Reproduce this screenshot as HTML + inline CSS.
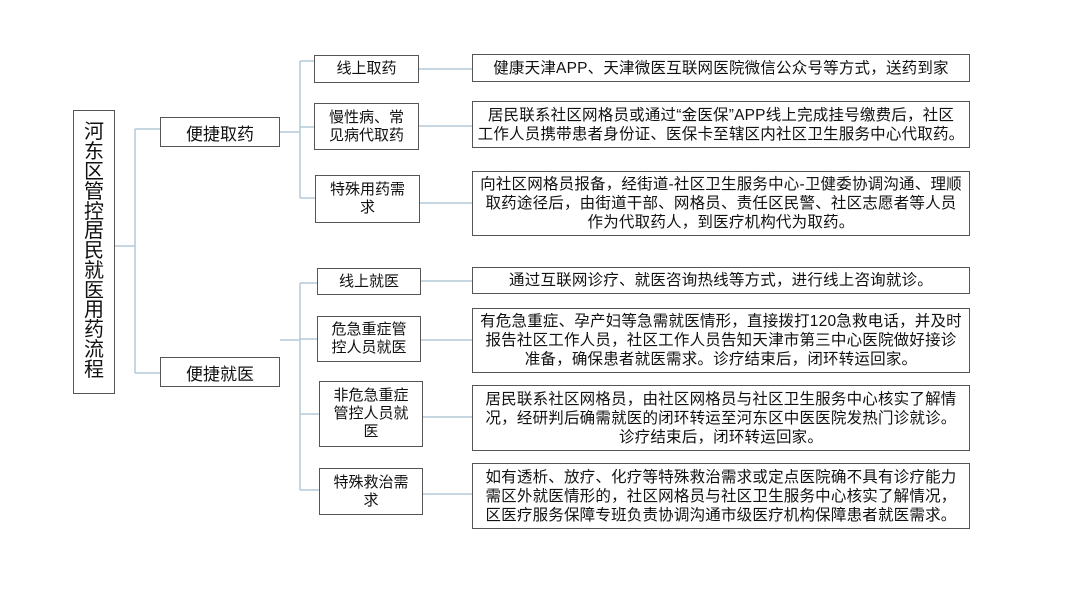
<!DOCTYPE html>
<html><head><meta charset="utf-8"><style>
body{margin:0;width:1080px;height:608px;background:#fff;position:relative;overflow:hidden;font-family:"Liberation Sans","Noto Sans CJK SC",sans-serif;color:#111}
.b{position:absolute;border:1.5px solid #555;box-sizing:border-box;display:flex;align-items:center;justify-content:center;text-align:center;background:#fff}
.s{font-size:15px;line-height:18px}
.r{font-size:15.5px;line-height:19px;letter-spacing:0.2px}
svg{position:absolute;left:0;top:0}
.v{width:20px;font-size:20px;line-height:19.8px;word-break:break-all}
</style></head><body>
<svg width="1080" height="608"><g stroke="#b3cad8" stroke-width="1.5" fill="none">
<path d="M115 246H135M135 129V373M135 129H160M135 373H160"/>
<path d="M280 132H300M300 61V198M300 61H314M300 127H314M300 198H315"/>
<path d="M280 340H300M300 283V490M300 283H317M300 339H317M300 414H319M300 490H319"/>
<path d="M419 69H472M419 126H472M420 203H472M421 281H472M421 340H472M423 417H472M423 494H472"/>
</g></svg>
<div class="b" style="left:73px;top:110px;width:42px;height:284px"><div class="v">河东区管控居民就医用药流程</div></div>
<div class="b" style="left:160px;top:117px;width:120px;height:30px;font-size:17px">便捷取药</div>
<div class="b" style="left:160px;top:357px;width:120px;height:30px;font-size:17px">便捷就医</div>
<div class="b s" style="left:314px;top:55px;width:105px;height:28px">线上取药</div>
<div class="b s" style="left:314px;top:103px;width:105px;height:47px">慢性病、常<br>见病代取药</div>
<div class="b s" style="left:315px;top:175px;width:105px;height:48px">特殊用药需<br>求</div>
<div class="b s" style="left:317px;top:268px;width:104px;height:27px">线上就医</div>
<div class="b s" style="left:317px;top:316px;width:104px;height:46px">危急重症管<br>控人员就医</div>
<div class="b s" style="left:319px;top:381px;width:104px;height:66px">非危急重症<br>管控人员就<br>医</div>
<div class="b s" style="left:319px;top:468px;width:104px;height:47px">特殊救治需<br>求</div>
<div class="b r" style="left:472px;top:54px;width:498px;height:28px">健康天津APP、天津微医互联网医院微信公众号等方式，送药到家</div>
<div class="b r" style="left:472px;top:101px;width:498px;height:47px">居民联系社区网格员或通过“金医保”APP线上完成挂号缴费后，社区<br>工作人员携带患者身份证、医保卡至辖区内社区卫生服务中心代取药。</div>
<div class="b r" style="left:472px;top:171px;width:498px;height:65px">向社区网格员报备，经街道-社区卫生服务中心-卫健委协调沟通、理顺<br>取药途径后，由街道干部、网格员、责任区民警、社区志愿者等人员<br>作为代取药人，到医疗机构代为取药。</div>
<div class="b r" style="left:472px;top:267px;width:498px;height:27px">通过互联网诊疗、就医咨询热线等方式，进行线上咨询就诊。</div>
<div class="b r" style="left:472px;top:308px;width:498px;height:65px">有危急重症、孕产妇等急需就医情形，直接拨打120急救电话，并及时<br>报告社区工作人员，社区工作人员告知天津市第三中心医院做好接诊<br>准备，确保患者就医需求。诊疗结束后，闭环转运回家。</div>
<div class="b r" style="left:472px;top:385px;width:498px;height:66px">居民联系社区网格员，由社区网格员与社区卫生服务中心核实了解情<br>况，经研判后确需就医的闭环转运至河东区中医医院发热门诊就诊。<br>诊疗结束后，闭环转运回家。</div>
<div class="b r" style="left:472px;top:463px;width:498px;height:66px">如有透析、放疗、化疗等特殊救治需求或定点医院确不具有诊疗能力<br>需区外就医情形的，社区网格员与社区卫生服务中心核实了解情况，<br>区医疗服务保障专班负责协调沟通市级医疗机构保障患者就医需求。</div>
</body></html>
